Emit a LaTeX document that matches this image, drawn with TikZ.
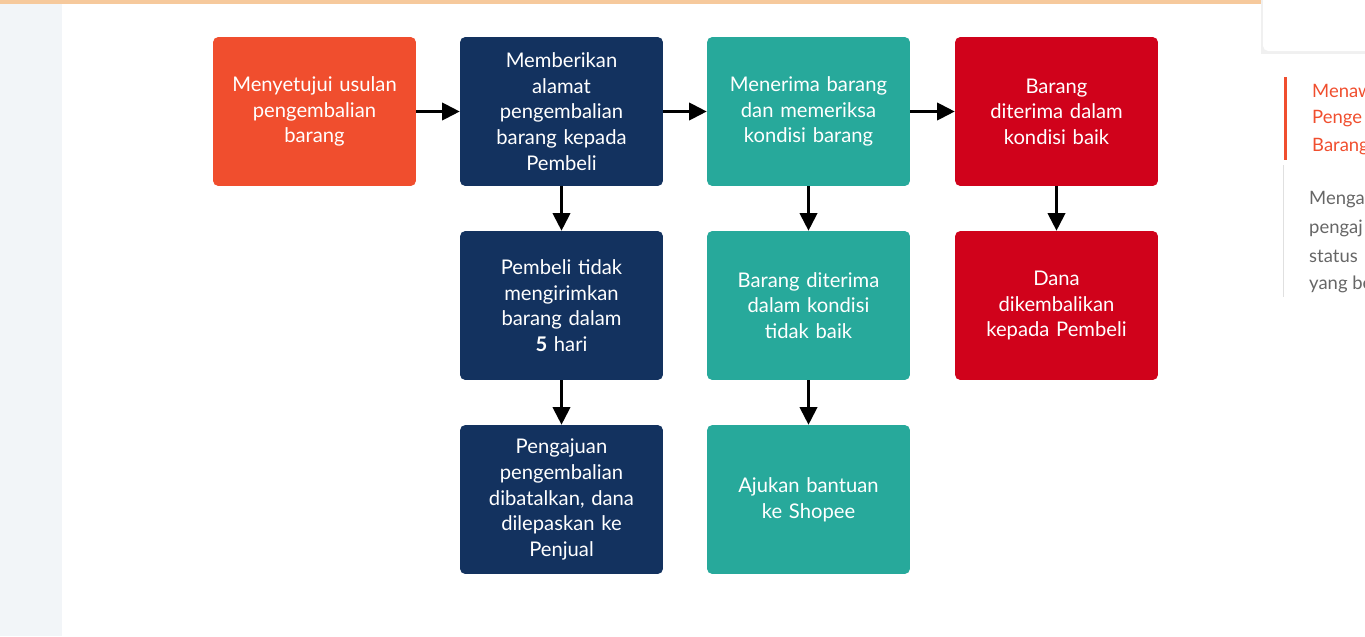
\documentclass[tikz,border=0pt]{standalone}
\usepackage{fontspec}
\setmainfont{Lato}
\usetikzlibrary{arrows.meta,positioning}
\definecolor{orangebox}{HTML}{F04E2E}
\definecolor{navybox}{HTML}{13325F}
\definecolor{tealbox}{HTML}{27A99B}
\definecolor{redbox}{HTML}{D0021B}
\definecolor{sidegray}{HTML}{F2F5F8}
\definecolor{topline}{HTML}{F6C99C}
\definecolor{sidetext}{HTML}{666666}
\tikzset{x=0.02cm,y=-0.02cm,
  box/.style={rectangle,rounded corners=3pt,minimum width=4.06cm,minimum height=2.98cm,
    text width=3.8cm,align=center,text=white,font=\fontsize{11.5}{14.6}\selectfont},
  flow/.style={-{Triangle[length=10pt,width=10pt]},line width=1.2pt}}
\begin{document}
\begin{tikzpicture}
\useasboundingbox (0,0) rectangle (1365,636);
\clip (0,0) rectangle (1365,636);
% page background
\fill[sidegray] (0,0) rectangle (62,636);
\fill[topline] (0,0) rectangle (1365,4);
\fill[black!6] (1261,0) rectangle (1365,54);
\fill[white,rounded corners=3pt] (1263,-5) rectangle (1370,51);
\fill[orangebox] (1284,77) rectangle (1287,160);
\fill[black!12] (1283,165) rectangle (1284,297);
\foreach \t [count=\i] in {Menaw,Penge,Barang}
  \node[anchor=west,text=orangebox,font=\fontsize{10.5}{12}\selectfont] (s\i) at (1306,63+28*\i) {\t};
\foreach \t [count=\i] in {Menga,pengaj,status,yang be}
  \node[anchor=west,text=sidetext,font=\fontsize{10.5}{12}\selectfont] (g\i) at (1303,172+28*\i) {\t};
% boxes
\node[box,fill=orangebox] (a) at (314.5,111.5) {Menyetujui usulan\\pengembalian\\barang};
\node[box,fill=navybox] (b) at (561.5,111.5) {Memberikan\\alamat\\pengembalian\\barang kepada\\Pembeli};
\node[box,fill=tealbox] (c) at (808.5,111.5) {Menerima barang\\dan memeriksa\\kondisi barang};
\node[box,fill=redbox] (d) at (1056.5,111.5) {Barang\\diterima dalam\\kondisi baik};
\node[box,fill=navybox] (b2) at (561.5,305.5) {Pembeli tidak\\mengirimkan\\barang dalam\\\textbf{5} hari};
\node[box,fill=tealbox] (c2) at (808.5,305.5) {Barang diterima\\dalam kondisi\\tidak baik};
\node[box,fill=redbox] (d2) at (1056.5,305.5) {Dana\\dikembalikan\\kepada Pembeli};
\node[box,fill=navybox] (b3) at (561.5,499.5) {Pengajuan\\pengembalian\\dibatalkan, dana\\dilepaskan ke\\Penjual};
\node[box,fill=tealbox] (c3) at (808.5,499.5) {Ajukan bantuan\\ke Shopee};
% arrows
\draw[flow] (a) -- (b);
\draw[flow] (b) -- (c);
\draw[flow] (c) -- (d);
\draw[flow] (b) -- (b2);
\draw[flow] (b2) -- (b3);
\draw[flow] (c) -- (c2);
\draw[flow] (c2) -- (c3);
\draw[flow] (d) -- (d2);
\end{tikzpicture}
\end{document}
